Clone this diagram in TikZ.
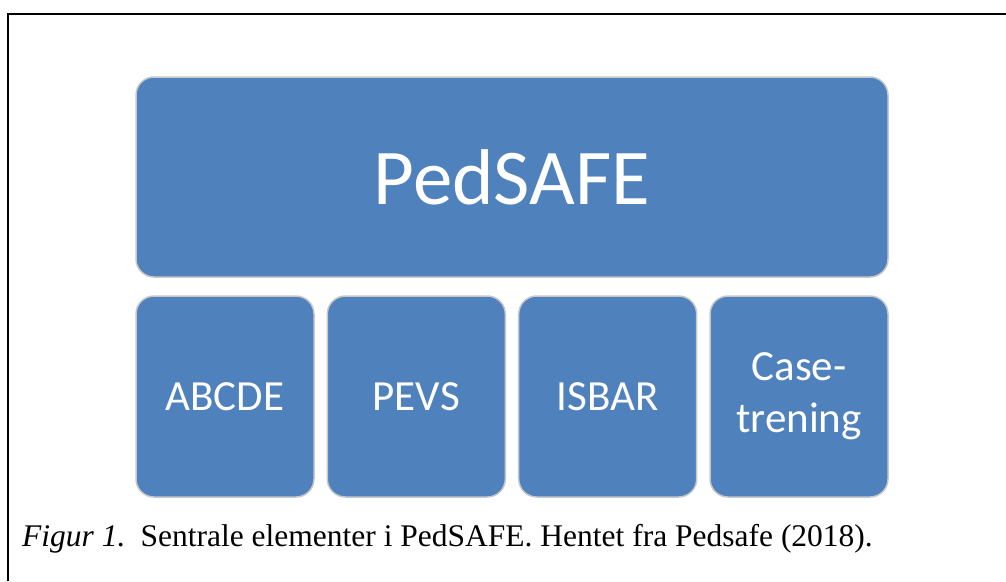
\documentclass[tikz,border=0pt]{standalone}
\usepackage{fontspec}
\setmainfont{Liberation Serif}
\newfontfamily\calfont{Carlito}
\definecolor{boxblue}{HTML}{4F81BD}
\definecolor{boxedge}{HTML}{C8C8C8}
\begin{document}
\begin{tikzpicture}[x=1pt,y=-1pt,
  blk/.style={draw=boxedge, line width=1.5pt, fill=boxblue, rounded corners=18pt,
    text=white, inner sep=0pt, outer sep=0pt, anchor=north west, align=center},
  smallblk/.style={blk, minimum width=178pt, minimum height=201pt,
    font=\calfont\fontsize{43}{50}\selectfont},
  bigblk/.style={blk, minimum width=752pt, minimum height=200pt,
    font=\calfont\fontsize{79}{90}\selectfont}]
\useasboundingbox (0,0) rectangle (1006,581);
\coordinate (fa) at (8,581);
\coordinate (fb) at (8,14);
\coordinate (fc) at (1006,14);
\draw[line width=2pt] (fa) -- (fb) -- (fc);
\node[bigblk] (top) at (136,77) {PedSAFE};
\node[smallblk] (b1) at (136,296) {ABCDE};
\node[smallblk] (b2) at (327.3,296) {PEVS};
\node[smallblk] (b3) at (518.7,296) {ISBAR};
\node[smallblk] (b4) at (710,296) {Case-\\[2pt]trening};
\node[anchor=base west, inner sep=0pt, font=\fontsize{31.5}{36}\selectfont] (cap) at (22,546)
  {\textit{Figur 1.}\hspace{0.15em} Sentrale elementer i PedSAFE. Hentet fra Pedsafe (2018).};
\end{tikzpicture}
\end{document}
